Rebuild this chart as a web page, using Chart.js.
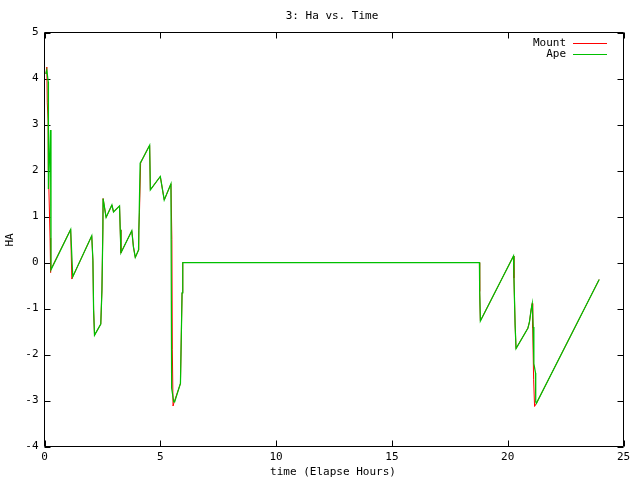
<!DOCTYPE html>
<html>
<head>
<meta charset="utf-8">
<script src="https://cdn.jsdelivr.net/npm/chart.js@4"></script>
<style>
html, body { margin: 0; padding: 0; background: #fff; }
</style>
</head>
<body>
<canvas id="haChart" width="640" height="480"></canvas>
<script>
// ===== Data =====
const mountTime = [0.06, 0.10, 0.12, 0.16, 0.17, 0.24, 0.25, 0.28, 1.13, 1.14, 1.18, 1.22,
    2.04, 2.09, 2.12, 2.16, 2.43, 2.48, 2.52, 2.53, 2.66, 2.91, 2.98, 3.24, 3.27, 3.30,
    3.77, 3.84, 3.92, 4.06, 4.07, 4.10, 4.15, 4.21, 4.54, 4.57, 5.00, 5.17, 5.46, 5.50,
    5.52, 5.55, 5.60, 5.62, 5.87, 5.94, 5.97, 18.78, 18.79, 18.82, 20.25, 20.27, 20.32,
    20.36, 20.87, 20.94, 21.01, 21.06, 21.08, 21.12, 21.16, 21.24, 23.95];
const mountHa = [4.10, 4.25, 3.47, 3.03, 2.01, 0.53, -0.22, -0.16, 0.72, 0.72, -0.36, -0.31,
    0.58, 0.05, -1.03, -1.58, -1.34, -0.60, 0.71, 1.39, 0.98, 1.25, 1.10, 1.23, 0.71, 0.21,
    0.69, 0.34, 0.11, 0.27, 0.70, 1.08, 2.16, 2.23, 2.55, 1.58, 1.87, 1.36, 1.71, 0.50,
    -1.90, -3.12, -3.03, -3.03, -2.63, -0.66, 0.00, 0.00, -0.63, -1.27, 0.14, -0.34, -1.36,
    -1.87, -1.43, -1.29, -1.03, -0.89, -1.42, -2.55, -3.13, -3.06, -0.37];

const apeTime = [0.06, 0.10, 0.16, 0.17, 0.26, 0.28, 1.13, 1.22,
    2.04, 2.09, 2.12, 2.16, 2.43, 2.48, 2.52, 2.53, 2.66, 2.91, 2.98, 3.24, 3.27, 3.30,
    3.77, 3.84, 3.92, 4.06, 4.09, 4.13, 4.21, 4.54, 4.57, 5.00, 5.17, 5.46, 5.49, 5.58, 5.62,
    5.87, 5.94, 5.97, 18.78, 18.79, 18.82, 20.25, 20.27, 20.32, 20.36, 20.87, 20.94, 21.01,
    21.06, 21.10, 21.13, 21.20, 21.21, 21.24, 23.95];
const apeHa = [4.10, 4.18, 3.93, 1.60, 2.88, -0.16, 0.72, -0.31,
    0.58, 0.05, -1.03, -1.58, -1.34, -0.60, 0.71, 1.39, 0.98, 1.25, 1.10, 1.23, 0.71, 0.21,
    0.69, 0.34, 0.11, 0.27, 1.10, 2.16, 2.23, 2.55, 1.58, 1.87, 1.36, 1.71, -2.73, -3.03, -3.03,
    -2.63, -0.66, 0.00, 0.00, -0.63, -1.27, 0.14, -0.34, -1.36, -1.87, -1.43, -1.29, -1.03,
    -0.89, -1.40, -2.20, -2.40, -3.03, -3.06, -0.37];

const xTicks = [0, 5, 10, 15, 20, 25];
const yTicks = [-4, -3, -2, -1, 0, 1, 2, 3, 4, 5];

const seriesNames = ['Mount', 'Ape'];
const seriesColors = ['#ff0000', '#00c000'];

const FONT = '11px "DejaVu Sans Mono", "Liberation Mono", monospace';

function toPoints(xs, ys) {
    return xs.map((x, i) => ({ x: x, y: ys[i] }));
}

// ===== gnuplot-style frame, inward ticks, title and key =====
const gnuplotLook = {
    id: 'gnuplotLook',
    beforeDatasetsDraw(chart) {
        const ctx = chart.ctx;
        const a = chart.chartArea;
        const xs = chart.scales.x, ys = chart.scales.y;
        ctx.save();
        ctx.strokeStyle = '#000';
        ctx.lineWidth = 1;
        ctx.beginPath();
        ctx.rect(a.left, a.top, a.right - a.left, a.bottom - a.top);
        xTicks.forEach(v => {
            const px = Math.round(xs.getPixelForValue(v)) + 0.5;
            ctx.moveTo(px, a.bottom); ctx.lineTo(px, a.bottom - 6);
            ctx.moveTo(px, a.top); ctx.lineTo(px, a.top + 6);
        });
        yTicks.forEach(v => {
            const py = Math.round(ys.getPixelForValue(v)) + 0.5;
            ctx.moveTo(a.left, py); ctx.lineTo(a.left + 6, py);
            ctx.moveTo(a.right, py); ctx.lineTo(a.right - 6, py);
        });
        ctx.stroke();
        ctx.restore();
    },
    afterDraw(chart) {
        const ctx = chart.ctx;
        ctx.save();
        ctx.font = FONT;
        ctx.fillStyle = '#000';
        ctx.textBaseline = 'middle';
        ctx.textAlign = 'center';
        ctx.fillText('3: Ha vs. Time', 332, 16);
        ctx.fillText('time (Elapse Hours)', 333, 472);
        ctx.save();
        ctx.translate(10, 240);
        ctx.rotate(-Math.PI / 2);
        ctx.fillText('HA', 0, 0);
        ctx.restore();
        // key
        ctx.textAlign = 'right';
        seriesNames.forEach((name, i) => {
            const y = 43 + i * 11;
            ctx.fillStyle = '#000';
            ctx.fillText(name, 566, y);
            ctx.fillStyle = seriesColors[i];
            ctx.fillRect(573, y, 34, 1);
        });
        ctx.restore();
    }
};

const ctx = document.getElementById('haChart').getContext('2d');
new Chart(ctx, {
    type: 'line',
    data: {
        datasets: [
            {
                label: seriesNames[0],
                data: toPoints(mountTime, mountHa),
                borderColor: seriesColors[0],
                borderWidth: 1,
                pointRadius: 0,
                tension: 0,
                order: 1
            },
            {
                label: seriesNames[1],
                data: toPoints(apeTime, apeHa),
                borderColor: seriesColors[1],
                borderWidth: 1.25,
                pointRadius: 0,
                tension: 0,
                order: 0
            }
        ]
    },
    options: {
        responsive: false,
        animation: false,
        devicePixelRatio: 1,
        layout: { padding: { top: 32.5, right: 16.5, bottom: 0, left: 0 } },
        plugins: {
            legend: { display: false },
            title: { display: false },
            tooltip: { enabled: false }
        },
        scales: {
            x: {
                type: 'linear',
                min: 0,
                max: 25,
                afterBuildTicks: s => { s.ticks = xTicks.map(v => ({ value: v })); },
                afterFit: s => { s.height = 33.5; },
                grid: { display: false, drawTicks: false, tickLength: 0 },
                border: { display: false },
                ticks: {
                    color: '#000',
                    font: { family: '"DejaVu Sans Mono", monospace', size: 11 },
                    padding: 4,
                    maxRotation: 0
                }
            },
            y: {
                type: 'linear',
                min: -4,
                max: 5,
                afterBuildTicks: s => { s.ticks = yTicks.map(v => ({ value: v })); },
                afterFit: s => { s.width = 44.5; },
                grid: { display: false, drawTicks: false, tickLength: 0 },
                border: { display: false },
                ticks: {
                    color: '#000',
                    font: { family: '"DejaVu Sans Mono", monospace', size: 11 },
                    padding: 6
                }
            }
        }
    },
    plugins: [gnuplotLook]
});
</script>
</body>
</html>
